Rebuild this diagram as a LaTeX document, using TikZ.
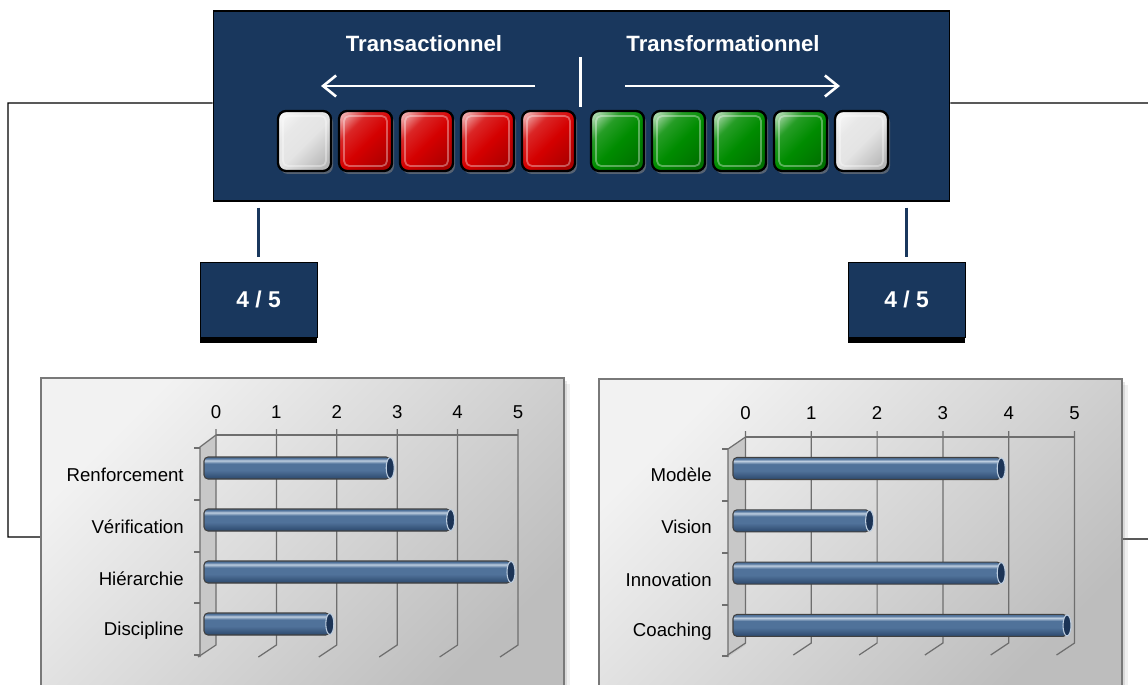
\documentclass[tikz,border=0pt]{standalone}
\usepackage{fontspec}
\setmainfont{Liberation Sans}
\usetikzlibrary{arrows.meta,shadows}

\definecolor{navy}{RGB}{25,55,93}
\definecolor{btnwhite}{RGB}{228,228,228}
\definecolor{btnred}{RGB}{212,0,0}
\definecolor{btngreen}{RGB}{0,140,0}
\definecolor{gridgray}{RGB}{110,110,110}
\definecolor{wallgray}{RGB}{200,200,200}
\definecolor{bardark}{RGB}{44,72,108}
\definecolor{barmid}{RGB}{80,114,154}
\definecolor{barlight}{RGB}{190,206,224}
\definecolor{capblue}{RGB}{28,52,86}
\colorlet{btnbase}{btnred}

\pgfdeclareverticalshading{barshade}{100bp}{color(0bp)=(bardark); color(25bp)=(bardark); color(45bp)=(barmid); color(60bp)=(barmid); color(67bp)=(barlight); color(72bp)=(barmid); color(75bp)=(barmid); color(100bp)=(barmid)}
\pgfdeclareverticalshading[btnbase]{btnshade}{100bp}{color(0bp)=(btnbase!80!black); color(22bp)=(btnbase!80!black); color(48bp)=(btnbase); color(66bp)=(btnbase!85!white); color(80bp)=(btnbase!35!white); color(100bp)=(btnbase!25!white)}

\tikzset{
  panel/.style={fill=navy, draw=black, line width=0.6pt, minimum width=14.74cm, minimum height=3.8cm},
  btn/.style={draw=black, line width=1.3pt, rounded corners=0.16cm,
    minimum width=1.06cm, minimum height=1.2cm,
    shading=btnshade, shading angle=45,
    drop shadow={shadow xshift=0.04cm, shadow yshift=-0.06cm, opacity=0.6},
    path picture={\draw[white, opacity=0.35, line width=1pt, rounded corners=0.1cm]
      ([shift={(0.1cm,-0.1cm)}]path picture bounding box.north west) rectangle
      ([shift={(-0.1cm,0.1cm)}]path picture bounding box.south east);}},
  title/.style={text=white, font=\fontsize{12.6}{15}\selectfont\bfseries},
  bigarrow/.style={draw=white, line width=1.5pt, -{Straight Barb[length=0.26cm, width=0.42cm, line width=1.5pt]}},
  scorebox/.style={fill=navy, draw=black, line width=0.5pt, minimum width=2.34cm, minimum height=1.5cm,
    text=white, font=\fontsize{13}{15}\selectfont\bfseries},
  stub/.style={draw=navy, line width=1.7pt},
  frameline/.style={draw=black, line width=0.6pt},
  chartbox/.style={draw=gray!95!black, line width=0.7pt, top color=white!95!black, bottom color=black!26, shading angle=45,
    drop shadow={shadow xshift=0.06cm, shadow yshift=-0.06cm, opacity=0.2},
    drop shadow={shadow xshift=0.13cm, shadow yshift=-0.11cm, opacity=0.12}},
  gridline/.style={draw=gridgray, line width=0.7pt},
  ticklbl/.style={font=\fontsize{10.6}{12}\selectfont},
  catlbl/.style={font=\fontsize{10.6}{12}\selectfont, anchor=east, inner sep=0pt},
  barbody/.style={draw=black!75, line width=0.6pt, rounded corners=0.08cm, shading=barshade},
  barcap/.style={fill=capblue, draw=barlight, line width=0.6pt}
}

\begin{document}
\begin{tikzpicture}[x=0.02cm, y=-0.02cm]
    \useasboundingbox (0,0) rectangle (1148,685);
    \clip (0,0) rectangle (1148,685);

    % Top panel
    \node[panel] (panel) at (581.5,106) {};
    \node[title] (trans) at (424,44) {Transactionnel};
    \node[title] (transf) at (723,44) {Transformationnel};
    \coordinate (divtop) at (580.5,57);
    \coordinate (divbot) at (580.5,107);
    \draw[draw=white, line width=1.2pt] (divtop) -- (divbot);
    \coordinate (arrLs) at (535,86);
    \coordinate (arrLe) at (321,86);
    \coordinate (arrRs) at (625,86);
    \coordinate (arrRe) at (840,86);
    \draw[bigarrow] (arrLs) -- (arrLe);
    \draw[bigarrow] (arrRs) -- (arrRe);

    % Buttons
    \foreach \c/\x [count=\i] in {btnwhite/304.5, btnred/365.5, btnred/426.5, btnred/487.5, btnred/548.5,
                                  btngreen/617.5, btngreen/678.5, btngreen/739.5, btngreen/800.5, btnwhite/861.5} {
        \colorlet{btnbase}{\c}
        \node[btn] (b\i) at (\x,141) {};
    }

    % Score boxes
    \node[scorebox] (scoreL) at (258.5,299.5) {4 / 5};
    \node[scorebox] (scoreR) at (906.5,299.5) {4 / 5};
    \fill (scoreL.south west) rectangle ++(117,6);
    \fill (scoreR.south west) rectangle ++(117,6);
    \draw[stub, shorten <=0.12cm, shorten >=0.1cm] (panel.south -| scoreL) -- (scoreL.north);
    \draw[stub, shorten <=0.12cm, shorten >=0.1cm] (panel.south -| scoreR) -- (scoreR.north);

    % Frame lines
    \draw[frameline] ([yshift=0.06cm]panel.west) -- (8,103) |- (302.5,537);
    \draw[frameline] ([yshift=0.06cm]panel.east) -- (1156,103) |- (860.5,539);

    % Chart boxes
    \node[chartbox, minimum width=10.46cm, minimum height=6.36cm] (chartL) at (302.5,537) {};
    \node[chartbox, minimum width=10.46cm, minimum height=6.4cm] (chartR) at (860.5,539) {};

    % Left chart
    \fill[wallgray] (216,435) -- (200,447) -- (200,657) -- (216,645) -- cycle;
    \draw[gridline] (216,435) -- (518,435);
    \draw[gridline] (216,435) -- (200,447) -- (200,657);
    \foreach \k in {0,...,5} {
        \draw[gridline] ({216+60.4*\k},429) -- ({216+60.4*\k},645) -- ++(-18,12);
        \node[ticklbl] (tL\k) at ({216+60.4*\k},412) {\k};
    }
    \foreach \t in {448,500,552,603,655}
        \draw[gridline] (194,\t) -- (200,\t);
    \foreach \v/\lbl [count=\i] in {3/Renforcement, 4/Vérification, 5/Hiérarchie, 2/Discipline} {
        \pgfmathsetmacro\yc{468+52*(\i-1)}
        \pgfmathsetmacro\xe{209+60.4*\v}
        \draw[barbody] (204,{\yc-11}) rectangle (\xe,{\yc+11});
        \draw[barcap] (\xe,\yc) ellipse [x radius=4, y radius=10.5];
        \node[catlbl] (cL\i) at (184,{\yc+7}) {\lbl};
    }

    % Right chart
    \fill[wallgray] (745.5,437) -- (728,449) -- (728,657) -- (745.5,645) -- cycle;
    \draw[gridline] (745.5,437) -- (1074.5,437);
    \draw[gridline] (745.5,437) -- (728,449) -- (728,657);
    \foreach \k in {0,...,5} {
        \draw[gridline] ({745.5+65.8*\k},431) -- ({745.5+65.8*\k},643) -- ++(-18,12);
        \node[ticklbl] (tR\k) at ({745.5+65.8*\k},413) {\k};
    }
    \foreach \t in {449,501,553,605,656}
        \draw[gridline] (722,\t) -- (728,\t);
    \foreach \v/\lbl [count=\i] in {4/Modèle, 2/Vision, 4/Innovation, 5/Coaching} {
        \pgfmathsetmacro\yc{468.5+52.3*(\i-1)}
        \pgfmathsetmacro\xe{738+65.8*\v}
        \draw[barbody] (733,{\yc-11}) rectangle (\xe,{\yc+11});
        \draw[barcap] (\xe,\yc) ellipse [x radius=4, y radius=10.5];
        \node[catlbl] (cR\i) at (712,{\yc+6.5}) {\lbl};
    }
\end{tikzpicture}
\end{document}
